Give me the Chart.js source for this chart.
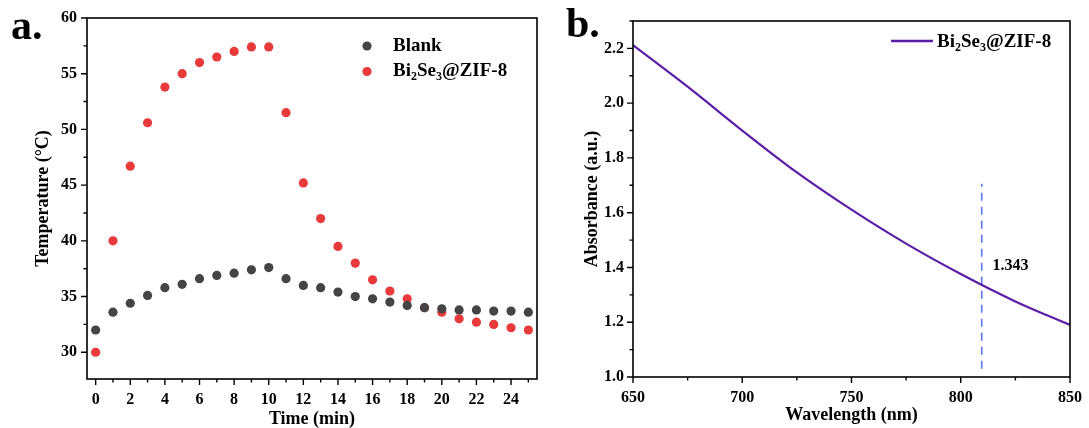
<!DOCTYPE html>
<html>
<head>
<meta charset="utf-8">
<script src="https://cdn.jsdelivr.net/npm/chart.js@4/dist/chart.umd.min.js"></script>
<style>
  html, body { margin: 0; padding: 0; background: #fff; }
  #wrap { position: relative; width: 1089px; height: 428px; overflow: hidden; }
  .panel { position: absolute; top: 0; height: 428px; }
  #pa { left: 0; width: 545px; }
  #pb { left: 545px; width: 544px; }
</style>
</head>
<body>
<div id="wrap">
  <div class="panel" id="pa"><canvas id="ca"></canvas></div>
  <div class="panel" id="pb"><canvas id="cb"></canvas></div>
</div>
<script>
// ---------- Panel a data ----------
const timeMin = [0,1,2,3,4,5,6,7,8,9,10,11,12,13,14,15,16,17,18,19,20,21,22,23,24,25];
const blankTemp = [32.0,33.6,34.4,35.1,35.8,36.1,36.6,36.9,37.1,37.4,37.6,36.6,36.0,35.8,35.4,35.0,34.8,34.5,34.2,34.0,33.9,33.8,33.8,33.7,33.7,33.6];
const bi2se3Temp = [30.0,40.0,46.7,50.6,53.8,55.0,56.0,56.5,57.0,57.4,57.4,51.5,45.2,42.0,39.5,38.0,36.5,35.5,34.8,34.0,33.6,33.0,32.7,32.5,32.2,32.0];
const seriesNamesA = ['Blank', 'Bi₂Se₃@ZIF-8'];
const timeTicks = [0,2,4,6,8,10,12,14,16,18,20,22,24];
const tempTicks = [30,35,40,45,50,55,60];

// ---------- Panel b data ----------
const wavelength = [650,675,700,725,750,775,800,825,850];
const absorbance = [2.212,2.06,1.90,1.747,1.611,1.487,1.376,1.276,1.19];
const seriesNameB = 'Bi₂Se₃@ZIF-8';
const markerWavelength = [809.6, 809.6];
const markerAbs = [1.03, 1.706];
const markerLabel = '1.343';
const markerLabelPos = [814.5, 1.405];
const wlTicks = [650,700,750,800,850];
const absTicks = [1.0,1.2,1.4,1.6,1.8,2.0,2.2];

const FONT = '"Liberation Serif", "Times New Roman", serif';
const RED = '#e93a3b';
const DARK = '#444444';
const PURPLE = '#5b1ea6';
const BLUE = '#5a78ea';

// draw text with unicode subscript digits rendered as subscripts
const SUBS = {'₀':'0','₁':'1','₂':'2','₃':'3','₄':'4','₅':'5','₆':'6','₇':'7','₈':'8','₉':'9'};
function drawRich(ctx, str, x, y, size) {
  ctx.save();
  ctx.textBaseline = 'middle';
  ctx.textAlign = 'left';
  ctx.fillStyle = '#000';
  let cx = x;
  for (const ch of str) {
    if (SUBS[ch]) {
      ctx.font = 'bold ' + Math.round(size * 0.62) + 'px ' + FONT;
      ctx.fillText(SUBS[ch], cx, y + size * 0.3);
      cx += ctx.measureText(SUBS[ch]).width;
    } else {
      ctx.font = 'bold ' + size + 'px ' + FONT;
      ctx.fillText(ch, cx, y);
      cx += ctx.measureText(ch).width;
    }
  }
  ctx.restore();
}

function drawFrameAndTicks(chart, xMajor, xMinor, yMajor, yMinor) {
  const ctx = chart.ctx;
  const a = chart.chartArea;
  const xs = chart.scales.x, ys = chart.scales.y;
  ctx.save();
  ctx.strokeStyle = '#000';
  ctx.lineWidth = 1.6;
  ctx.strokeRect(a.left, a.top, a.right - a.left, a.bottom - a.top);
  ctx.lineWidth = 1.4;
  ctx.beginPath();
  xMajor.forEach(v => { const p = xs.getPixelForValue(v); ctx.moveTo(p, a.bottom); ctx.lineTo(p, a.bottom + 6); });
  xMinor.forEach(v => { const p = xs.getPixelForValue(v); ctx.moveTo(p, a.bottom); ctx.lineTo(p, a.bottom + 3.5); });
  yMajor.forEach(v => { const p = ys.getPixelForValue(v); ctx.moveTo(a.left, p); ctx.lineTo(a.left - 6, p); });
  yMinor.forEach(v => { const p = ys.getPixelForValue(v); ctx.moveTo(a.left, p); ctx.lineTo(a.left - 3.5, p); });
  ctx.stroke();
  ctx.restore();
}

function panelLabel(chart, text, x, y) {
  const ctx = chart.ctx;
  ctx.save();
  ctx.font = 'bold 42px ' + FONT;
  ctx.fillStyle = '#000';
  ctx.textBaseline = 'alphabetic';
  ctx.fillText(text, x, y);
  ctx.restore();
}

// ---------- Chart a ----------
const plugA = {
  id: 'decorA',
  afterDraw(chart) {
    const xMinor = timeMin.filter(v => v % 2 === 1);
    const yMinor = tempTicks.slice(0, -1).map(v => v + 2.5);
    drawFrameAndTicks(chart, timeTicks, xMinor, tempTicks, yMinor);
    panelLabel(chart, 'a.', 11, 39);
    const ctx = chart.ctx;
    const colors = [DARK, RED];
    seriesNamesA.forEach((name, i) => {
      const y = 46 + i * 25.5;
      ctx.save();
      ctx.fillStyle = colors[i];
      ctx.beginPath(); ctx.arc(367, y, 4.6, 0, Math.PI * 2); ctx.fill();
      ctx.restore();
      drawRich(ctx, name, 393, y, 19);
    });
  }
};

new Chart(document.getElementById('ca'), {
  type: 'scatter',
  data: {
    datasets: [
      { label: seriesNamesA[0], data: timeMin.map((t, i) => ({ x: t, y: blankTemp[i] })),
        pointRadius: 4.6, pointHoverRadius: 4.6, backgroundColor: DARK, borderWidth: 0 },
      { label: seriesNamesA[1], data: timeMin.map((t, i) => ({ x: t, y: bi2se3Temp[i] })),
        pointRadius: 4.6, pointHoverRadius: 4.6, backgroundColor: RED, borderWidth: 0 }
    ]
  },
  options: {
    responsive: true, maintainAspectRatio: false, animation: false,
    layout: { padding: { left: 0, right: 8, top: 18, bottom: 0 } },
    plugins: { legend: { display: false }, tooltip: { enabled: false } },
    scales: {
      x: {
        type: 'linear', min: -0.5, max: 25.5,
        afterBuildTicks: s => { s.ticks = timeTicks.map(v => ({ value: v })); },
        afterFit: s => { s.height = 49; },
        grid: { display: false, drawTicks: true, tickLength: 6 },
        border: { display: false },
        ticks: { color: '#000', padding: 5, maxRotation: 0, autoSkip: false, font: { family: FONT, weight: 'bold', size: 16 } },
        title: { display: true, text: 'Time (min)', color: '#000', padding: { top: 0, bottom: 0 },
                 font: { family: FONT, weight: 'bold', size: 18, lineHeight: 1 } }
      },
      y: {
        min: 27.6, max: 60,
        afterBuildTicks: s => { s.ticks = tempTicks.map(v => ({ value: v })); },
        afterFit: s => { s.width = 87; },
        grid: { display: false, drawTicks: true, tickLength: 6 },
        border: { display: false },
        ticks: { color: '#000', padding: 4, autoSkip: false, font: { family: FONT, weight: 'bold', size: 16 } },
        title: { display: true, text: 'Temperature (°C)', color: '#000', padding: { top: 34, bottom: 0 },
                 font: { family: FONT, weight: 'bold', size: 18, lineHeight: 1 } }
      }
    }
  },
  plugins: [plugA]
});

// ---------- Chart b ----------
const plugB = {
  id: 'decorB',
  afterDraw(chart) {
    const xMinor = wlTicks.slice(0, -1).map(v => v + 25);
    const yMinor = absTicks.map(v => +(v + 0.1).toFixed(1));
    drawFrameAndTicks(chart, wlTicks, xMinor, absTicks, yMinor);
    panelLabel(chart, 'b.', 21, 37);
    const ctx = chart.ctx;
    ctx.save();
    ctx.strokeStyle = PURPLE; ctx.lineWidth = 2.5;
    ctx.beginPath(); ctx.moveTo(346, 41); ctx.lineTo(388, 41); ctx.stroke();
    ctx.restore();
    drawRich(ctx, seriesNameB, 392, 42, 19);
    const xs = chart.scales.x, ys = chart.scales.y;
    ctx.save();
    ctx.font = 'bold 16px ' + FONT;
    ctx.fillStyle = '#000';
    ctx.textBaseline = 'middle';
    ctx.fillText(markerLabel, xs.getPixelForValue(markerLabelPos[0]), ys.getPixelForValue(markerLabelPos[1]));
    ctx.restore();
  }
};

new Chart(document.getElementById('cb'), {
  type: 'line',
  data: {
    datasets: [
      { label: seriesNameB, data: wavelength.map((w, i) => ({ x: w, y: absorbance[i] })),
        borderColor: PURPLE, borderWidth: 2.2, pointRadius: 0, cubicInterpolationMode: 'monotone', fill: false },
      { label: 'marker', data: markerWavelength.map((w, i) => ({ x: w, y: markerAbs[i] })),
        borderColor: BLUE, borderWidth: 1.6, borderDash: [8, 6], pointRadius: 0, fill: false }
    ]
  },
  options: {
    responsive: true, maintainAspectRatio: false, animation: false,
    layout: { padding: { left: 0, right: 19, top: 21, bottom: 0 } },
    plugins: { legend: { display: false }, tooltip: { enabled: false } },
    scales: {
      x: {
        type: 'linear', min: 650, max: 850,
        afterBuildTicks: s => { s.ticks = wlTicks.map(v => ({ value: v })); },
        afterFit: s => { s.height = 51; },
        grid: { display: false, drawTicks: true, tickLength: 6 },
        border: { display: false },
        ticks: { color: '#000', padding: 5, maxRotation: 0, autoSkip: false, font: { family: FONT, weight: 'bold', size: 16 } },
        title: { display: true, text: 'Wavelength (nm)', color: '#000', padding: { top: 0, bottom: 4 },
                 font: { family: FONT, weight: 'bold', size: 18, lineHeight: 1 } }
      },
      y: {
        min: 1.0, max: 2.3,
        afterBuildTicks: s => { s.ticks = absTicks.map(v => ({ value: v })); },
        afterFit: s => { s.width = 88; },
        grid: { display: false, drawTicks: true, tickLength: 6 },
        border: { display: false },
        ticks: { color: '#000', padding: 3, autoSkip: false, callback: v => Number(v).toFixed(1),
                 font: { family: FONT, weight: 'bold', size: 16 } },
        title: { display: true, text: 'Absorbance (a.u.)', color: '#000', padding: { top: 38, bottom: 0 },
                 font: { family: FONT, weight: 'bold', size: 18, lineHeight: 1 } }
      }
    }
  },
  plugins: [plugB]
});
</script>
</body>
</html>
